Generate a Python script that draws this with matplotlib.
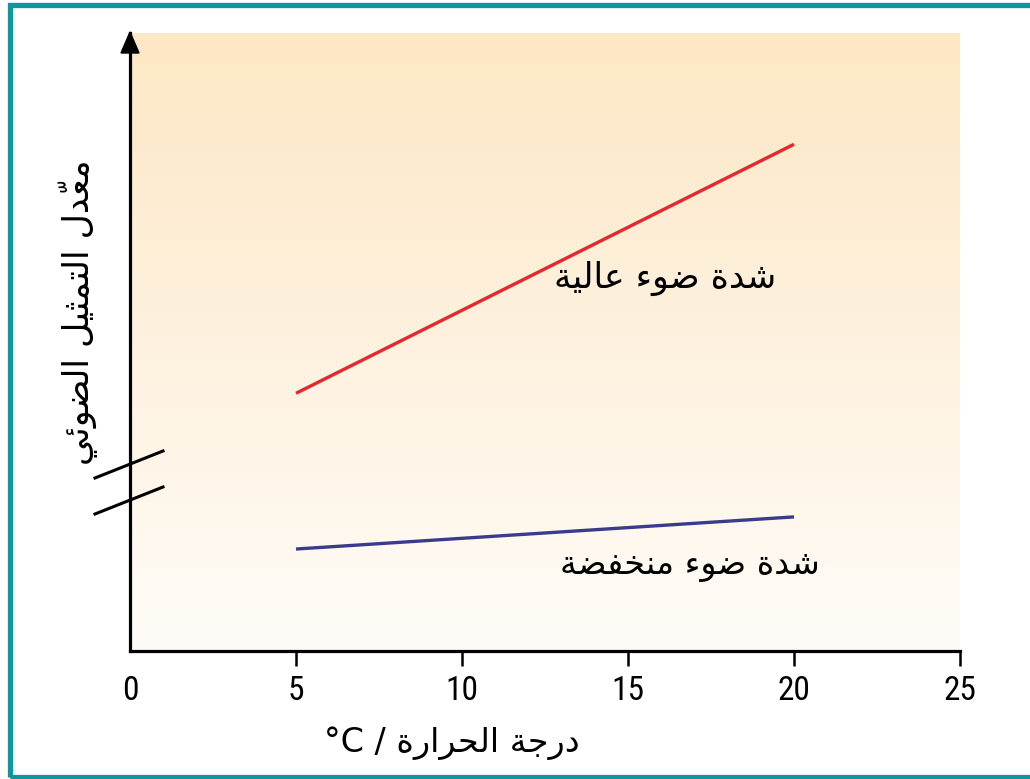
import numpy as np
import matplotlib
matplotlib.use("Agg")
import matplotlib.pyplot as plt
from matplotlib import font_manager
from matplotlib.patches import Rectangle, Polygon
from matplotlib.lines import Line2D
from matplotlib.transforms import IdentityTransform

# ---------------- data ----------------
temperature = [5, 20]
high_light = [4.17, 8.20]
low_light = [1.65, 2.17]
x_ticks = [0, 5, 10, 15, 20, 25]

# Arabic labels (presentation forms, visual order for left-to-right rendering)
label_high = "\uFE94\uFEF4\uFEDF\uFE8E\uFECB \uFE80\uFEEE\uFEBF \uFE93\uFEAA\uFEB7"          # شدة ضوء عالية
label_low = "\uFE94\uFEC0\uFED4\uFEA8\uFEE8\uFEE3 \uFE80\uFEEE\uFEBF \uFE93\uFEAA\uFEB7"     # شدة ضوء منخفضة
y_label = ("\uFEF2\uFE8B\uFEEE\uFEC0\uFEDF\uFE8D \uFEDE\uFEF4\uFE9C\uFEE4\uFE98\uFEDF\uFE8D "
           "\uFEDD\uFEAA\u0651\uFECC\uFEE3")                                               # معدّل التمثيل الضوئي
x_label = "\u00B0C / \uFE93\uFEAD\uFE8D\uFEAE\uFEA4\uFEDF\uFE8D \uFE94\uFE9F\uFEAD\uFEA9"   # درجة الحرارة / °C

# ---------------- figure ----------------
W, H = 1030, 779
fig = plt.figure(figsize=(W / 100, H / 100), dpi=100)
fig.patch.set_facecolor("white")

def fx(px):
    return px / W

def fy(py):
    return 1 - py / H

# tick font: prefer a condensed face
tick_family = "Liberation Sans"
tick_size = 22
for cand, size in [("Liberation Sans Narrow", 24), ("DejaVu Sans Condensed", 23),
                   ("Roboto Condensed", 24), ("Open Sans Condensed", 24)]:
    try:
        font_manager.findfont(cand, fallback_to_default=False)
        tick_family, tick_size = cand, size
        break
    except Exception:
        pass

ax_left, ax_right = 130, 960
ax_top, ax_bottom = 33, 651
ax = fig.add_axes([fx(ax_left), fy(ax_bottom), fx(ax_right - ax_left), (ax_bottom - ax_top) / H])

# gradient background
grad = np.linspace(0, 1, 256).reshape(-1, 1)
top_c = np.array([253, 231, 197]) / 255
bot_c = np.array([255, 252, 248]) / 255
img = top_c[None, None, :] * (1 - grad[:, :, None]) + bot_c[None, None, :] * grad[:, :, None]
ax.imshow(img, extent=[0, 1, 0, 1], transform=ax.transAxes, aspect="auto", zorder=0)
ax.set_xlim(0, 25)
ax.set_ylim(0, 10)

ax.plot(temperature, high_light, color="#E8262B", lw=2.4, zorder=3, solid_capstyle="butt")
ax.plot(temperature, low_light, color="#3B3B8E", lw=2.4, zorder=3, solid_capstyle="butt")

ax.text(665, H - 278, label_high, fontsize=25, family="DejaVu Sans", ha="center", va="center",
        transform=IdentityTransform())
ax.text(690, H - 565, label_low, fontsize=24, family="DejaVu Sans", ha="center", va="center",
        transform=IdentityTransform())

# spines
for s in ["top", "right"]:
    ax.spines[s].set_visible(False)
ax.spines["left"].set_linewidth(2.3)
ax.spines["bottom"].set_linewidth(2.3)
ax.spines["left"].set_zorder(4)
ax.spines["bottom"].set_zorder(4)

ax.set_yticks([])
ax.set_xticks(x_ticks)
ax.set_xticklabels([str(v) for v in x_ticks])
ax.tick_params(axis="x", direction="out", length=11, width=1.8, pad=6,
               labelsize=tick_size, colors="black")
for lab in ax.get_xticklabels():
    lab.set_family(tick_family)
ax.xaxis.get_major_ticks()[0].tick1line.set_visible(False)

# arrow head on y axis
arrow = Polygon([[fx(130), fy(32)], [fx(121), fy(53)], [fx(139), fy(53)]], closed=True,
                transform=fig.transFigure, color="black", zorder=10)
fig.patches.append(arrow)

# axis break marks
for (x0, y0, x1, y1) in [(95, 478, 163, 451), (95, 514, 163, 487)]:
    fig.lines.append(Line2D([fx(x0), fx(x1)], [fy(y0), fy(y1)], transform=fig.transFigure,
                            color="black", lw=2.2, zorder=10))

# axis labels
fig.text(fx(78), fy(312), y_label, rotation=90, fontsize=25, family="DejaVu Sans",
         ha="center", va="center")
fig.text(fx(452), fy(743), x_label, fontsize=24, family="DejaVu Sans", ha="center", va="center")

# teal frame
frame = Rectangle((fx(9.5), fy(776.5)), fx(1040), (776.5 - 4.5) / H, transform=fig.transFigure,
                  fill=False, edgecolor="#12969C", lw=3.8, zorder=20)
fig.patches.append(frame)

fig.savefig("out.png", dpi=100)
